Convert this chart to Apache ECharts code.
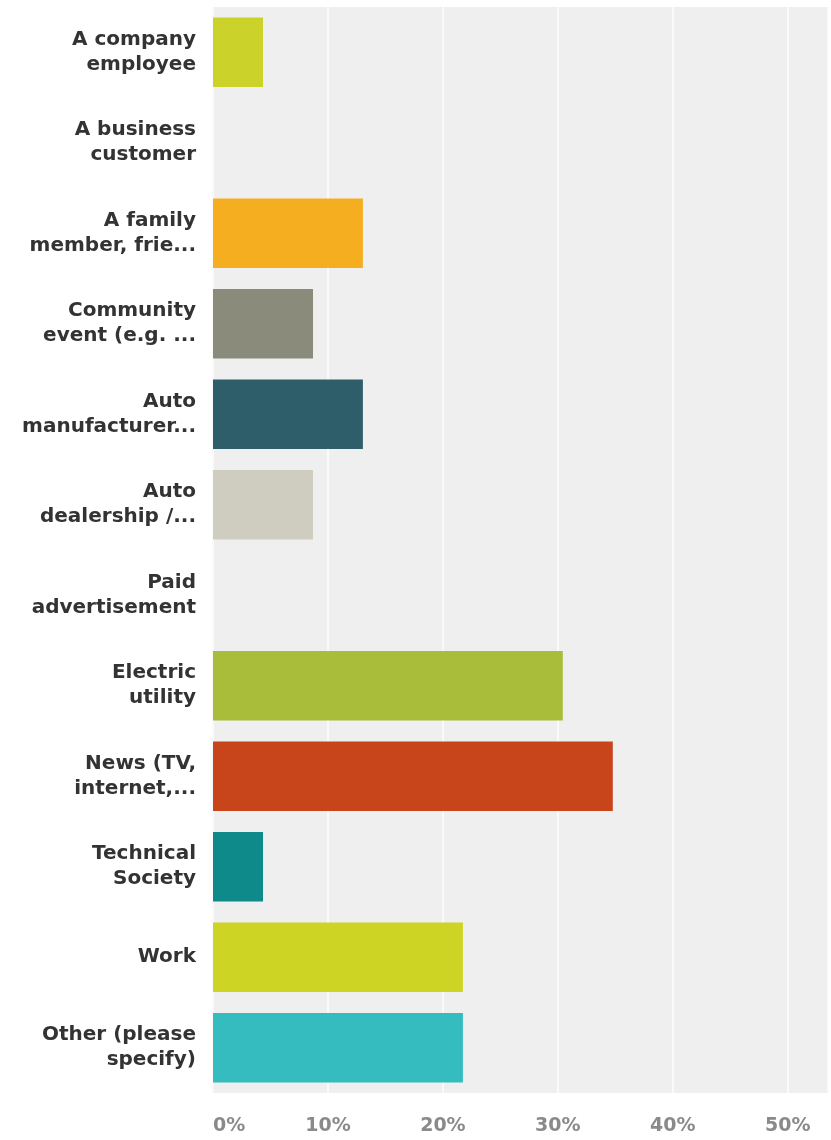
<!DOCTYPE html>
<html>
<head>
<meta charset="utf-8">
<script src="https://cdn.jsdelivr.net/npm/echarts@6/dist/echarts.min.js"></script>
<style>
  html, body { margin: 0; padding: 0; background: #ffffff; overflow: hidden; }
  #chart { width: 831px; height: 1140px; }
</style>
</head>
<body>
<div id="chart"></div>
<script>
// Answer choices, top to bottom
const categories = [
  'A company\nemployee',
  'A business\ncustomer',
  'A family\nmember, frie...',
  'Community\nevent (e.g. ...',
  'Auto\nmanufacturer...',
  'Auto\ndealership /...',
  'Paid\nadvertisement',
  'Electric\nutility',
  'News (TV,\ninternet,...',
  'Technical\nSociety',
  'Work',
  'Other (please\nspecify)'
];

// Share of respondents (%)
const values = [4.35, 0, 13.04, 8.70, 13.04, 8.70, 0, 30.43, 34.78, 4.35, 21.74, 21.74];

// One colour per answer choice
const barColors = [
  '#cbd32a', '#9aa83a', '#f5ae20', '#8a8b7b', '#2f5e6b', '#cfcdbf',
  '#777777', '#a9bd3a', '#c8451b', '#0f8a8a', '#cdd423', '#34bcbf'
];

const tickValues = [0, 10, 20, 30, 40, 50];

const chart = echarts.init(document.getElementById('chart'), null, { renderer: 'canvas' });

chart.setOption({
  animation: false,
  backgroundColor: '#ffffff',
  grid: {
    left: 213,
    right: -4,
    top: 7,
    bottom: 47,
    show: true,
    backgroundColor: '#efefef',
    borderWidth: 0
  },
  xAxis: {
    type: 'value',
    min: 0,
    max: 53.5,
    interval: 10,
    axisLine: { show: false },
    axisTick: { show: false },
    splitLine: {
      show: true,
      lineStyle: { color: '#fafafa', width: 2 }
    },
    axisLabel: {
      margin: 24,
      color: '#8a8a8a',
      fontFamily: 'DejaVu Sans',
      fontWeight: 'bold',
      fontSize: 19,
      alignMinLabel: 'left',
      formatter: function (v) {
        return tickValues.indexOf(Math.round(v * 100) / 100) >= 0 ? v + '%' : '';
      }
    }
  },
  yAxis: {
    type: 'category',
    inverse: true,
    data: categories,
    axisLine: { show: false },
    axisTick: { show: false },
    splitLine: { show: false },
    axisLabel: {
      margin: 17,
      align: 'right',
      color: '#333333',
      fontFamily: 'DejaVu Sans',
      fontWeight: 'bold',
      fontSize: 20,
      lineHeight: 25
    }
  },
  series: [{
    type: 'bar',
    data: values.map(function (v, i) {
      return { value: v, itemStyle: { color: barColors[i] } };
    }),
    barCategoryGap: '23%',
    silent: true
  }]
});
</script>
</body>
</html>
